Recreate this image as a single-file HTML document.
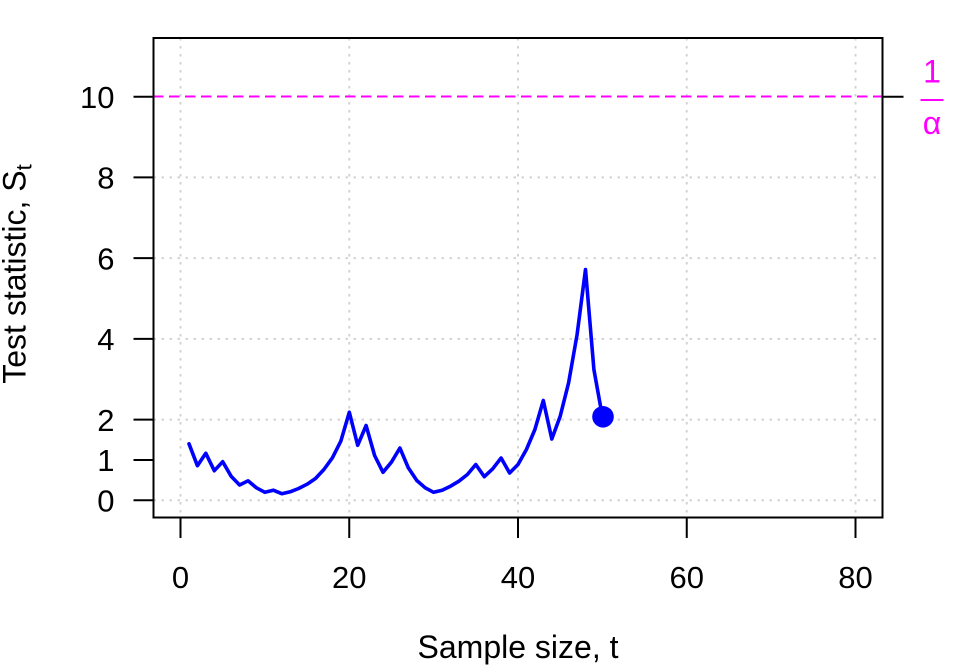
<!DOCTYPE html>
<html>
<head>
<meta charset="utf-8">
<style>
  html, body { margin: 0; padding: 0; background: #ffffff; }
  svg { display: block; }
  text { font-family: "Liberation Sans", "DejaVu Sans", sans-serif; }
</style>
</head>
<body>
<svg width="960" height="672" viewBox="0 0 960 672" xmlns="http://www.w3.org/2000/svg">
  <rect x="0" y="0" width="960" height="672" fill="#ffffff"/>

  <!-- grid: vertical -->
  <g stroke="#d3d3d3" stroke-width="2" stroke-dasharray="2.5 5.5" fill="none">
    <line x1="180.5" y1="38" x2="180.5" y2="517.5"/>
    <line x1="349.25" y1="38" x2="349.25" y2="517.5"/>
    <line x1="518" y1="38" x2="518" y2="517.5"/>
    <line x1="686.75" y1="38" x2="686.75" y2="517.5"/>
    <line x1="855.5" y1="38" x2="855.5" y2="517.5"/>
  </g>
  <!-- grid: horizontal -->
  <g stroke="#d3d3d3" stroke-width="2" stroke-dasharray="2.5 5.5" fill="none">
    <line x1="153.5" y1="500.3" x2="882.5" y2="500.3"/>
    <line x1="153.5" y1="419.6" x2="882.5" y2="419.6"/>
    <line x1="153.5" y1="338.9" x2="882.5" y2="338.9"/>
    <line x1="153.5" y1="258.1" x2="882.5" y2="258.1"/>
    <line x1="153.5" y1="177.4" x2="882.5" y2="177.4"/>
  </g>

  <!-- magenta threshold -->
  <line x1="153" y1="96.5" x2="883" y2="96.5" stroke="#ff00ff" stroke-width="2" stroke-dasharray="10.5 5.5"/>

  <!-- data series -->
  <polyline fill="none" stroke="#0000ff" stroke-width="3.6" stroke-linejoin="round" stroke-linecap="round"
    points="189.0,443.8 197.4,465.7 205.8,453.3 214.3,470.7 222.7,461.7 231.1,476.2 239.6,485.0 248.0,480.8 256.4,487.8 264.9,492.3 273.3,490.2 281.8,493.7 290.2,491.8 298.6,488.5 307.1,484.2 315.5,478.5 323.9,469.5 332.4,457.8 340.8,441.2 349.3,412.2 357.7,445.3 366.1,425.5 374.6,455.5 383.0,472.3 391.4,462.2 399.9,448.0 408.3,467.8 416.8,480.5 425.2,487.8 433.6,492.3 442.1,490.2 450.5,486.2 458.9,481.2 467.4,474.5 475.8,464.5 484.3,476.7 492.7,468.8 501.1,458.0 509.6,473.0 518.0,464.5 526.4,449.5 534.9,429.5 543.3,400.5 551.8,439.0 560.2,416.2 568.6,382.8 577.1,334.5 585.5,269.5 593.9,369.5 602.4,416.7"/>
  <circle cx="603" cy="416.8" r="10.8" fill="#0000ff"/>

  <!-- box -->
  <rect x="153.5" y="38" width="729" height="479.5" fill="none" stroke="#000" stroke-width="2"/>

  <!-- x ticks -->
  <g stroke="#000" stroke-width="2">
    <line x1="180.5" y1="517.5" x2="180.5" y2="538"/>
    <line x1="349.25" y1="517.5" x2="349.25" y2="538"/>
    <line x1="518" y1="517.5" x2="518" y2="538"/>
    <line x1="686.75" y1="517.5" x2="686.75" y2="538"/>
    <line x1="855.5" y1="517.5" x2="855.5" y2="538"/>
  </g>
  <g font-size="31" fill="#000" text-anchor="middle">
    <text x="180.5" y="588">0</text>
    <text x="349.25" y="588">20</text>
    <text x="518" y="588">40</text>
    <text x="686.75" y="588">60</text>
    <text x="855.5" y="588">80</text>
  </g>

  <!-- y ticks -->
  <g stroke="#000" stroke-width="2">
    <line x1="133.5" y1="500.3" x2="153.5" y2="500.3"/>
    <line x1="133.5" y1="460" x2="153.5" y2="460"/>
    <line x1="133.5" y1="419.6" x2="153.5" y2="419.6"/>
    <line x1="133.5" y1="338.9" x2="153.5" y2="338.9"/>
    <line x1="133.5" y1="258.1" x2="153.5" y2="258.1"/>
    <line x1="133.5" y1="177.4" x2="153.5" y2="177.4"/>
    <line x1="133.5" y1="96.7" x2="153.5" y2="96.7"/>
    <line x1="882.5" y1="96.7" x2="903.5" y2="96.7"/>
  </g>
  <g font-size="31" fill="#000" text-anchor="end">
    <text x="114.5" y="511.5">0</text>
    <text x="114.5" y="471.2">1</text>
    <text x="114.5" y="430.8">2</text>
    <text x="114.5" y="350.1">4</text>
    <text x="114.5" y="269.3">6</text>
    <text x="114.5" y="188.6">8</text>
    <text x="114.5" y="107.9">10</text>
  </g>

  <!-- axis labels -->
  <text x="518" y="658" font-size="32" text-anchor="middle" fill="#000">Sample size, t</text>
  <text transform="translate(25.5,274) rotate(-90)" font-size="32" text-anchor="middle" fill="#000">Test statistic, S<tspan font-size="22" dy="6">t</tspan></text>

  <!-- 1/alpha label -->
  <text x="932" y="82.5" font-size="32" text-anchor="middle" fill="#ff00ff">1</text>
  <line x1="920.5" y1="100" x2="943.5" y2="100" stroke="#ff00ff" stroke-width="2"/>
  <text x="932" y="134" font-size="32" text-anchor="middle" fill="#ff00ff">α</text>
</svg>
</body>
</html>
